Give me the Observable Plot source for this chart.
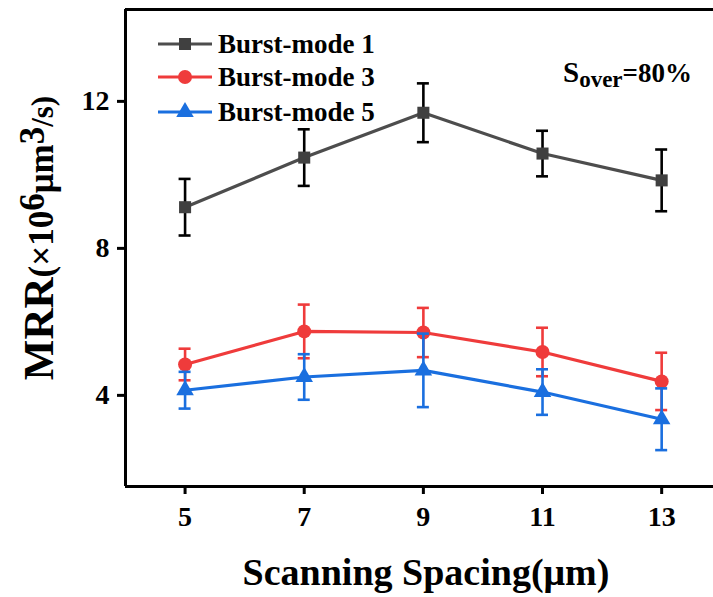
<!DOCTYPE html>
<html>
<head>
<meta charset="utf-8">
<script src="https://cdn.jsdelivr.net/npm/d3@7"></script>
<script src="https://cdn.jsdelivr.net/npm/@observablehq/plot@0.6"></script>
<style>
  html, body { margin: 0; padding: 0; background: #fff; }
</style>
</head>
<body>
<div id="chart"></div>
<script>
const spacing = [5, 7, 9, 11, 13];
const seriesNames = ["Burst-mode 1", "Burst-mode 3", "Burst-mode 5"];
const mode1 = [9.12, 10.47, 11.69, 10.58, 9.85];
const mode1Err = [0.77, 0.77, 0.80, 0.62, 0.84];
const mode3 = [4.84, 5.74, 5.71, 5.18, 4.38];
const mode3Err = [0.43, 0.73, 0.67, 0.66, 0.78];
const mode5 = [4.14, 4.50, 4.68, 4.09, 3.35];
const mode5Err = [0.50, 0.62, 1.00, 0.62, 0.84];
const yTicks = [4, 8, 12];
const xTicks = [5, 7, 9, 11, 13];

const colors = {"Burst-mode 1": "#4d4d4d", "Burst-mode 3": "#ef3b3b", "Burst-mode 5": "#1a6fdf"};
const errColors = {"Burst-mode 1": "#000000", "Burst-mode 3": "#ef3b3b", "Burst-mode 5": "#1a6fdf"};
const markFill = {"Burst-mode 1": "#404040", "Burst-mode 3": "#ef3b3b", "Burst-mode 5": "#1a6fdf"};
const symbols = {"Burst-mode 1": "square", "Burst-mode 3": "circle", "Burst-mode 5": "triangle"};
const radii = {"Burst-mode 1": 6.8, "Burst-mode 3": 7, "Burst-mode 5": 6.5};

const values = [mode1, mode3, mode5];
const errs = [mode1Err, mode3Err, mode5Err];
const data = [];
seriesNames.forEach((s, i) => spacing.forEach((x, j) => data.push({series: s, x, y: values[i][j], e: errs[i][j]})));

const xDomain = [4, 13.87];
const yDomain = [1.52, 14.5];
const font = "'Liberation Serif', 'Times New Roman', serif";

const marks = [];
seriesNames.forEach(s => {
  const d = data.filter(r => r.series === s);
  marks.push(Plot.line(d, {x: "x", y: "y", stroke: colors[s], strokeWidth: 3.2}));
  marks.push(Plot.ruleX(d, {x: "x", y1: r => r.y - r.e, y2: r => r.y + r.e, stroke: errColors[s], strokeWidth: 2.6}));
  marks.push(Plot.ruleY(d, {y: r => r.y + r.e, x1: "x", x2: "x", insetLeft: -6, insetRight: -6, stroke: errColors[s], strokeWidth: 2.6}));
  marks.push(Plot.ruleY(d, {y: r => r.y - r.e, x1: "x", x2: "x", insetLeft: -6, insetRight: -6, stroke: errColors[s], strokeWidth: 2.6}));
  marks.push(Plot.dot(d, {x: "x", y: "y", symbol: symbols[s], r: radii[s], fill: markFill[s], stroke: "none"}));
});

const chart = Plot.plot({
  width: 713,
  height: 597,
  marginLeft: 125,
  marginRight: 0,
  marginTop: 9,
  marginBottom: 111,
  style: {fontFamily: font, fontWeight: "bold", background: "#fff", color: "#000"},
  x: {domain: xDomain, ticks: xTicks, tickFormat: d => String(d)},
  y: {domain: yDomain, ticks: yTicks, tickFormat: d => String(d)},
  marks: [
    Plot.axisX({ticks: xTicks, tickSize: 8, tickPadding: 12, fontSize: 28, strokeWidth: 3, label: null}),
    Plot.axisY({ticks: yTicks, tickSize: 8, tickPadding: 8, fontSize: 28, strokeWidth: 3, label: null}),
    ...marks,
    Plot.ruleX([xDomain[0]], {stroke: "#000", strokeWidth: 3}),
    Plot.ruleY([yDomain[0], yDomain[1]], {stroke: "#000", strokeWidth: 3})
  ]
});
document.getElementById("chart").appendChild(chart);

const svg = d3.select(chart);
// Legend
const legendRows = [44, 77, 112];
seriesNames.forEach((s, i) => {
  const g = svg.append("g");
  const y = legendRows[i];
  g.append("line").attr("x1", 158).attr("x2", 212).attr("y1", y).attr("y2", y)
    .attr("stroke", colors[s]).attr("stroke-width", 3.2);
  const sym = d3.symbol().type(s === "Burst-mode 1" ? d3.symbolSquare : s === "Burst-mode 3" ? d3.symbolCircle : d3.symbolTriangle)
    .size(Math.PI * radii[s] * radii[s]);
  g.append("path").attr("d", sym()).attr("transform", `translate(185,${y})`).attr("fill", markFill[s]);
  g.append("text").attr("x", 218).attr("y", y + 9).attr("font-size", 27).attr("font-family", font)
    .attr("text-anchor", "start").attr("font-weight", "bold").attr("fill", "#000").text(s);
});

// Annotation
const ann = svg.append("text").attr("x", 563).attr("y", 82).attr("text-anchor", "start")
  .attr("font-family", font).attr("font-weight", "bold").attr("fill", "#000");
ann.append("tspan").attr("font-size", 29).text("S");
ann.append("tspan").attr("font-size", 23).attr("dy", 5).text("over");
ann.append("tspan").attr("font-size", 27).attr("dy", -5).text("=80%");

// X label
svg.append("text").attr("x", 426).attr("y", 585).attr("text-anchor", "middle").attr("font-size", 38)
  .attr("font-family", font).attr("font-weight", "bold").attr("fill", "#000").text("Scanning Spacing(μm)");

// Y label
const yl = svg.append("text").attr("transform", "translate(53,238) rotate(-90)").attr("text-anchor", "middle")
  .attr("font-family", font).attr("font-weight", "bold").attr("fill", "#000");
yl.append("tspan").attr("font-size", 43).text("MRR");
yl.append("tspan").attr("font-size", 35).text("(×10");
yl.append("tspan").attr("font-size", 35).attr("dy", -9).text("6");
yl.append("tspan").attr("font-size", 35).attr("dy", 9).text("μm");
yl.append("tspan").attr("font-size", 35).attr("dy", -9).text("3");
yl.append("tspan").attr("font-size", 31).attr("dy", 9).text("/s)");
</script>
</body>
</html>
